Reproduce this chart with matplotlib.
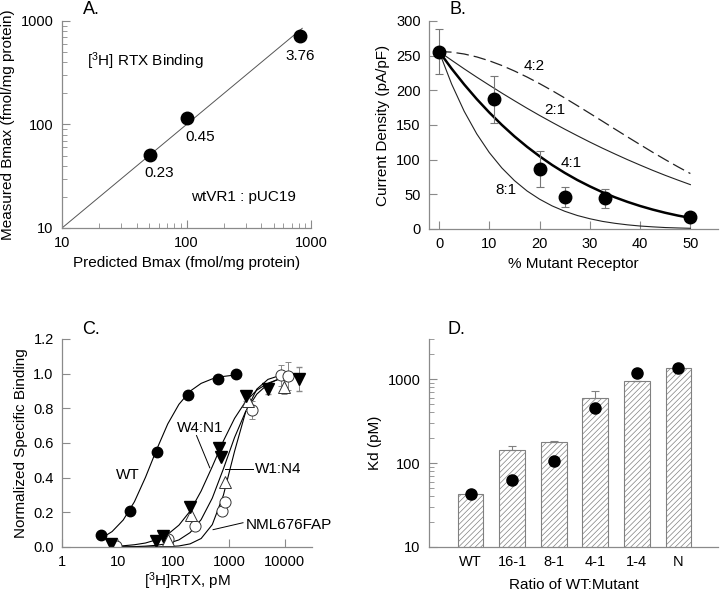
import matplotlib
matplotlib.use("Agg")
import matplotlib.pyplot as plt
import numpy as np

plt.rcParams['font.family'] = ['Liberation Sans', 'DejaVu Sans']
plt.rcParams['mathtext.default'] = 'regular'
plt.rcParams['font.size'] = 10
plt.rcParams['hatch.linewidth'] = 0.5
plt.rcParams['hatch.color'] = '#808080'

AXC = '#8a8a8a'

# ---- Panel A: predicted vs measured Bmax
a_pred = [51, 101, 818]
a_meas = [51, 115, 716]
a_labels = ['0.23', '0.45', '3.76']
a_label_pos = [(60, 34), (128, 76), (816, 459)]
a_line = [10, 850]

# ---- Panel B: current density vs % mutant
b_x = [0, 11, 20, 25, 33, 50]
b_y = [256, 187, 87, 46, 44, 18]
b_err = [32, 34, 26, 14, 14, 0]
b_curve_x = [0, 2.5, 5, 7.5, 10, 12.5, 15, 17.5, 20, 22.5, 25, 27.5, 30,
             32.5, 35, 37.5, 40, 42.5, 45, 47.5, 50]
b_42 = [256, 255.1, 252.4, 248.2, 242.6, 235.8, 227.9, 219.2, 209.7, 199.6,
        189.0, 178.0, 166.8, 155.5, 144.1, 132.8, 121.7, 110.7, 100.1, 89.8, 80.0]
b_21 = [256, 243.4, 231.0, 219.0, 207.4, 196.0, 185.0, 174.2, 163.8, 153.8,
        144.0, 134.6, 125.4, 116.6, 108.2, 100.0, 92.2, 84.6, 77.4, 70.6, 64.0]
b_41 = [256, 231.3, 208.5, 187.4, 168.0, 150.1, 133.6, 118.6, 104.9, 92.3,
        81.0, 70.7, 61.5, 53.1, 45.7, 39.1, 33.2, 28.0, 23.4, 19.4, 16.0]
b_81 = [256, 209.1, 169.8, 137.2, 110.2, 88.0, 69.8, 54.9, 43.0, 33.3,
        25.6, 19.5, 14.8, 11.0, 8.2, 6.0, 4.3, 3.1, 2.1, 1.5, 1.0]

# ---- Panel C: saturation binding
c_wt_x = [5.0, 16.6, 50, 185, 635, 1360]
c_wt_y = [0.07, 0.206, 0.55, 0.875, 0.968, 1.0]
c_w4_x = [7.5, 48, 64, 198, 660, 730, 2000, 5000, 17800]
c_w4_y = [0.015, 0.035, 0.066, 0.233, 0.57, 0.518, 0.871, 0.91, 0.97]
c_w4_err = [0, 0, 0, 0, 0, 0, 0.03, 0.03, 0.07]
c_w1_x = [80, 212, 850, 2200, 9800]
c_w1_y = [0.04, 0.186, 0.377, 0.84, 0.925]
c_w1_err = [0, 0, 0, 0.05, 0.04]
c_nm_x = [9.3, 81, 243, 760, 840, 2600, 8700, 11500]
c_nm_y = [0.005, 0.047, 0.123, 0.205, 0.26, 0.79, 0.99, 0.987]
c_nm_err = [0, 0, 0, 0, 0, 0.05, 0.06, 0.08]

c_fit_x = [5.01, 7.94, 12.6, 20.0, 31.6, 50.1, 79.4, 126, 200, 316, 501, 794,
           1259, 1995, 3162, 5012, 7943, 12589, 19953]
c_fit_wt = [0.049, 0.089, 0.156, 0.261, 0.402, 0.562, 0.710, 0.823, 0.899,
            0.944, 0.970, 0.984, 0.992]
c_fit_w4 = [0.004, 0.007, 0.013, 0.023, 0.042, 0.073, 0.126, 0.207, 0.323,
            0.464, 0.612, 0.742, 0.840, 0.905, 0.945, 0.969, 0.983, 0.990]
c_fit_w1 = [0.0005, 0.001, 0.002, 0.005, 0.010, 0.020, 0.041, 0.083, 0.158,
            0.282, 0.451, 0.632, 0.782, 0.882, 0.940, 0.970, 0.986, 0.993]
c_fit_nm = [0.0, 0.0, 0.0001, 0.0003, 0.0007, 0.002, 0.006, 0.018, 0.049,
            0.129, 0.299, 0.552, 0.780, 0.911, 0.967, 0.988, 0.996, 0.998]

# ---- Panel D: Kd by ratio
d_cats = ['WT', '16-1', '8-1', '4-1', '1-4', 'N']
d_bar = [42.4, 143, 176, 589, 955, 1340]
d_err_up = [0, 18, 7, 125, 0, 0]
d_dot = [42.4, 62, 106, 448, 1190, 1364]


def style(ax):
    ax.spines['top'].set_visible(False)
    ax.spines['right'].set_visible(False)
    for s in ('left', 'bottom'):
        ax.spines[s].set_color(AXC)
        ax.spines[s].set_linewidth(0.9)
    ax.tick_params(which='both', direction='in', color=AXC, labelsize=10.5)
    ax.tick_params(which='major', length=6, pad=6)
    ax.tick_params(which='minor', length=3.5)


fig = plt.figure(figsize=(7.2, 5.93), dpi=100)
W, H = 720.0, 593.0


def box(l, t, r, b):
    return [l / W, 1 - b / H, (r - l) / W, (b - t) / H]


axA = fig.add_axes(box(62, 21, 311, 228))
axB = fig.add_axes(box(429, 21, 718, 229))
axC = fig.add_axes(box(62, 339, 312, 547))
axD = fig.add_axes(box(429, 339, 718, 547))

# A
axA.set_xscale('log')
axA.set_yscale('log')
axA.plot(a_line, a_line, color='#555555', lw=0.7)
axA.plot(a_pred, a_meas, 'o', color='black', ms=9)
for t, (x, y) in zip(a_labels, a_label_pos):
    axA.text(x, y, t, ha='center', va='center', fontsize=11)
axA.text(47, 413, '[$^{3}$H] RTX Binding', ha='center', va='center', fontsize=11)
axA.text(286, 20.1, 'wtVR1 : pUC19', ha='center', va='center', fontsize=11)
axA.set_xlim(10, 1000)
axA.set_ylim(10, 1000)
axA.set_xticks([10, 100, 1000])
axA.set_yticks([10, 100, 1000])
axA.set_xticklabels(['10', '100', '1000'])
axA.set_yticklabels(['10', '100', '1000'])
axA.set_xlabel('Predicted Bmax (fmol/mg protein)', fontsize=11)
axA.set_ylabel('Measured Bmax (fmol/mg protein)', fontsize=11)
style(axA)

# B
axB.plot(b_curve_x, b_42, color='#222222', lw=0.9, ls=(0, (10, 4)))
axB.plot(b_curve_x, b_21, color='#222222', lw=0.8)
axB.plot(b_curve_x, b_41, color='black', lw=1.8)
axB.plot(b_curve_x, b_81, color='#222222', lw=0.8)
axB.errorbar(b_x, b_y, yerr=b_err, fmt='o', color='black', ms=9,
             ecolor='#777777', elinewidth=0.8, capsize=3, capthick=0.8)
axB.text(19.0, 235, '4:2', ha='center', va='center', fontsize=11)
axB.text(23.1, 171, '2:1', ha='center', va='center', fontsize=11)
axB.text(26.2, 95, '4:1', ha='center', va='center', fontsize=11)
axB.text(13.3, 56, '8:1', ha='center', va='center', fontsize=11)
axB.set_xlim(-2, 55.5)
axB.set_ylim(0, 300)
axB.set_xticks([0, 10, 20, 30, 40, 50])
axB.set_yticks([0, 50, 100, 150, 200, 250, 300])
axB.set_xlabel('% Mutant Receptor', fontsize=11)
axB.set_ylabel('Current Density (pA/pF)', fontsize=11)
style(axB)

# C
axC.set_xscale('log')
axC.plot(c_fit_x[:len(c_fit_wt)], c_fit_wt, color='black', lw=0.8)
axC.plot(c_fit_x[1:], c_fit_w4, color='black', lw=0.8)
axC.plot(c_fit_x[1:], c_fit_w1, color='black', lw=0.8)
axC.plot(c_fit_x[1:], c_fit_nm, color='black', lw=0.8)
axC.errorbar(c_nm_x, c_nm_y, yerr=c_nm_err, fmt='o', mfc='white', mec='#333333',
             mew=0.7, ms=8, ecolor='#888888', elinewidth=0.7, capsize=2.5)
axC.errorbar(c_w1_x, c_w1_y, yerr=c_w1_err, fmt='^', mfc='white', mec='#333333',
             mew=0.7, ms=8, ecolor='#888888', elinewidth=0.7, capsize=2.5)
axC.errorbar(c_w4_x, c_w4_y, yerr=c_w4_err, fmt='v', color='black', ms=8,
             ecolor='#888888', elinewidth=0.7, capsize=2.5)
axC.plot(c_wt_x, c_wt_y, 'o', color='black', ms=7.5)
axC.text(15.3, 0.418, 'WT', ha='center', va='center', fontsize=11)
axC.text(299, 0.689, 'W4:N1', ha='center', va='center', fontsize=11)
axC.plot([261, 452], [0.643, 0.457], color='black', lw=0.7)
axC.plot([840, 2700], [0.45, 0.45], color='black', lw=0.7)
axC.text(2900, 0.45, 'W1:N4', ha='left', va='center', fontsize=11)
axC.plot([518, 1786], [0.10, 0.14], color='black', lw=0.7)
axC.text(2000, 0.126, 'NML676FAP', ha='left', va='center', fontsize=11)
axC.set_xlim(1, 31000)
axC.set_ylim(0, 1.2)
axC.set_xticks([1, 10, 100, 1000, 10000])
axC.set_xticklabels(['1', '10', '100', '1000', '10000'])
axC.xaxis.set_minor_locator(matplotlib.ticker.NullLocator())
axC.set_yticks([0, 0.2, 0.4, 0.6, 0.8, 1.0, 1.2])
axC.set_yticklabels(['0.0', '0.2', '0.4', '0.6', '0.8', '1.0', '1.2'])
axC.set_xlabel('[$^{3}$H]RTX, pM', fontsize=11, labelpad=1)
axC.set_ylabel('Normalized Specific Binding', fontsize=11)
style(axC)

# D
pos = np.arange(len(d_cats))
axD.set_yscale('log')
axD.bar(pos, d_bar, width=0.62, color='white', edgecolor='#808080', lw=0.8,
        hatch='//////', zorder=2)
axD.errorbar(pos, d_bar, yerr=[[0] * len(d_cats), d_err_up], fmt='none',
             ecolor='#808080', elinewidth=0.8, capsize=3, capthick=0.8, zorder=3)
axD.plot(pos, d_dot, 'o', color='black', ms=8, zorder=4)
axD.set_xlim(-1, 5.95)
axD.set_ylim(10, 3000)
axD.set_xticks(pos)
axD.set_xticklabels(d_cats)
axD.set_yticks([10, 100, 1000])
axD.set_yticklabels(['10', '100', '1000'])
axD.set_xlabel('Ratio of WT:Mutant', fontsize=11, labelpad=6)
axD.set_ylabel('Kd (pM)', fontsize=11)
style(axD)
axD.tick_params(axis='x', which='both', length=0)

for lab, (x, y) in zip(['A.', 'B.', 'C.', 'D.'],
                       [(91, 10), (458, 10), (91, 330), (456, 330)]):
    fig.text(x / W, 1 - y / H, lab, ha='center', va='center', fontsize=13)

fig.savefig('out.png', dpi=100)
